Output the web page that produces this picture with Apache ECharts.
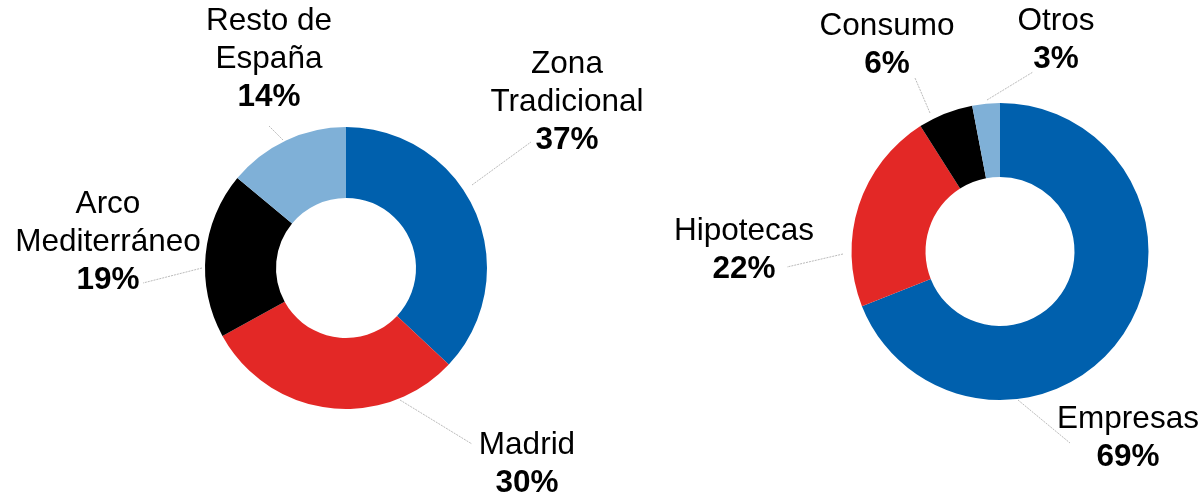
<!DOCTYPE html>
<html>
<head>
<meta charset="utf-8">
<title>Distribución</title>
<script src="https://cdn.jsdelivr.net/npm/echarts@6/dist/echarts.min.js"></script>
<style>
    html, body { margin: 0; padding: 0; background: #fff; }
    #chart { width: 1202px; height: 497px; }
</style>
</head>
<body>
<div id="chart"></div>
<script>
// Data
const zonaNames = ['Zona\nTradicional', 'Madrid', 'Arco\nMediterráneo', 'Resto de\nEspaña'];
const zonaValues = [37, 30, 19, 14];
const carteraNames = ['Empresas', 'Hipotecas', 'Consumo', 'Otros'];
const carteraValues = [69, 22, 6, 3];

const colors = ['#0060AD', '#E32826', '#000000', '#7FB0D7'];

// Label block centres and leader lines (layout only)
const zonaLabelPos = [[567, 102], [527, 464], [108, 242], [269, 59]];
const zonaLeaders = [
    [[472, 185], [531, 142]],
    [[400, 400], [472, 444]],
    [[202, 268], [143, 283]],
    [[283, 140], [269, 126]]
];
const carteraLabelPos = [[1128, 438], [744, 250], [887, 45], [1056, 40]];
const carteraLeaders = [
    [[1018, 400], [1070, 443]],
    [[843, 254], [787, 267]],
    [[930, 113], [915, 78]],
    [[987, 100], [1033, 72]]
];

const buildData = (names, values) => names.map((name, i) => ({
    name: name,
    value: values[i],
    itemStyle: { color: colors[i] }
}));

const labelFormatter = (p) => {
    const lines = p.name.split('\n').map(l => '{n|' + l + '}');
    return lines.join('\n') + '\n{p|' + p.value + '%}';
};

const pieSeries = (names, values, center, radius, positions, leaders) => ({
    type: 'pie',
    center: center,
    radius: radius,
    startAngle: 90,
    clockwise: true,
    avoidLabelOverlap: false,
    silent: true,
    animation: false,
    data: buildData(names, values),
    itemStyle: { borderWidth: 0 },
    label: {
        show: true,
        position: 'outside',
        formatter: labelFormatter,
        color: '#000',
        align: 'center',
        rich: {
            n: { fontFamily: 'Liberation Sans', fontSize: 31.5, lineHeight: 38, color: '#000', align: 'center' },
            p: { fontFamily: 'Liberation Sans', fontSize: 31.5, lineHeight: 38, fontWeight: 'bold', color: '#000', align: 'center' }
        }
    },
    labelLine: {
        show: true,
        length: 0,
        length2: 0,
        lineStyle: { color: '#BBBBBB', width: 1, type: [2, 1] }
    },
    labelLayout: (params) => {
        const pos = positions[params.dataIndex];
        return {
            x: pos[0],
            y: pos[1],
            align: 'center',
            verticalAlign: 'middle',
            labelLinePoints: leaders[params.dataIndex]
        };
    }
});

const chart = echarts.init(document.getElementById('chart'), null, { renderer: 'canvas' });

chart.setOption({
    backgroundColor: '#fff',
    series: [
        pieSeries(zonaNames, zonaValues, [346, 268], [70, 141], zonaLabelPos, zonaLeaders),
        pieSeries(carteraNames, carteraValues, [1000, 251.5], [74.5, 148.5], carteraLabelPos, carteraLeaders)
    ]
});
</script>
</body>
</html>
